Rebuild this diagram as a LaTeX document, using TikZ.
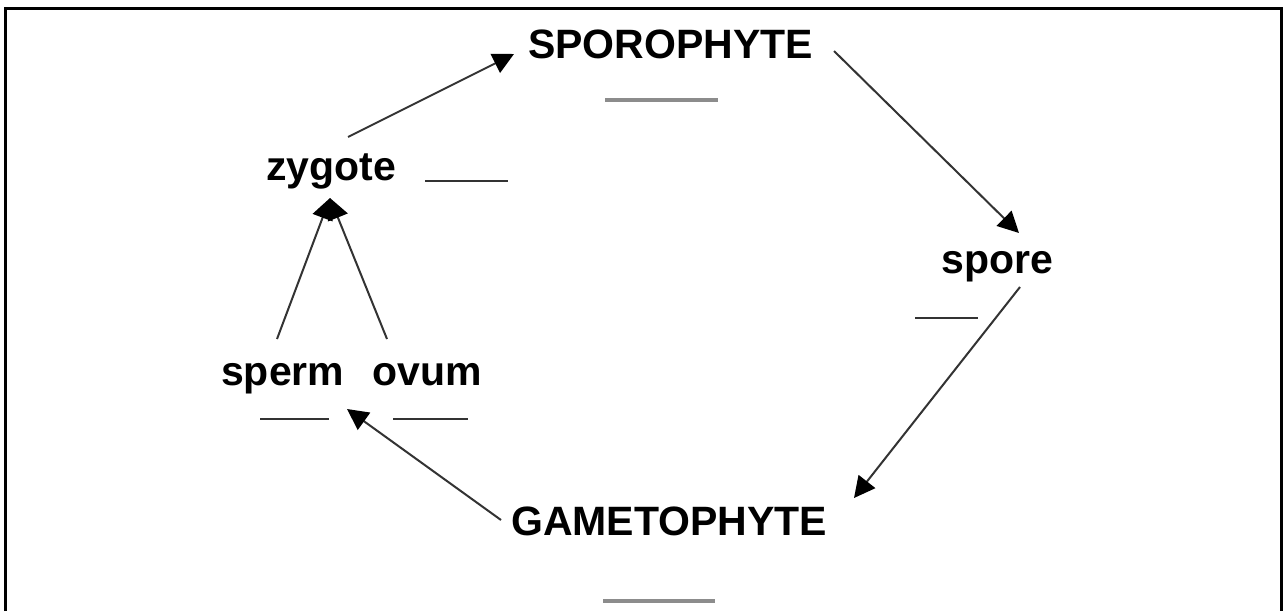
\documentclass[tikz,border=0pt]{standalone}
\usepackage{fontspec}
\setmainfont{Liberation Sans}
\usetikzlibrary{arrows.meta,calc}
\tikzset{
  stage/.style={inner sep=0pt, anchor=base west, font=\fontsize{41}{49}\selectfont\bfseries},
  flow/.style={draw=black!80, line width=2pt, -{Triangle[length=21pt,width=21pt,color=black]}},
  blank/.style={draw=black!80, line width=2pt},
  wideblank/.style={draw=black!45, line width=3.5pt}
}
\begin{document}
\begin{tikzpicture}[x=1pt,y=-1pt]
  \useasboundingbox (0,0) rectangle (1285,611);
  % open frame
  \draw[line width=3.5pt] (5.5,611) -- (5.5,8.5) -- (1281.5,8.5) -- (1281.5,611);

  % stage labels
  \node[stage] (spor)  at (528,58)  {SPOROPHYTE};
  \node[stage] (zyg)   at (266,180) {zygote};
  \node[stage] (spore) at (941,273) {spore};
  \node[stage] (sperm) at (221,385) {sperm};
  \node[stage] (ovum)  at (372,385) {ovum};
  \node[stage] (game)  at (511,535) {GAMETOPHYTE};

  % answer blanks
  \draw[wideblank] (605,100) -- (718,100);
  \draw[blank] (425,181) -- (508,181);
  \draw[blank] (915,318) -- (978,318);
  \draw[blank] (260,419) -- (329,419);
  \draw[blank] (393,419) -- (468,419);
  \draw[wideblank] (603,601) -- (715,601);

  % life-cycle arrows
  \draw[flow] ($(zyg.base west)+(82,-43)$) -- ($(spor.base west)+(-14,-4)$);
  \draw[flow] ($(spor.base west)+(306,-7)$) -- ($(spore.base west)+(78,-40)$);
  \draw[flow] ($(spore.base west)+(79,14)$) -- ($(game.base west)+(343,-37)$);
  \draw[flow] ($(game.base west)+(-10,-15)$) -- ($(sperm.base west)+(126,24)$);
  \draw[flow] ($(sperm.base west)+(56,-46)$) -- ($(zyg.base west)+(64,18)$);
  \draw[flow] ($(ovum.base west)+(15,-46)$) -- ($(zyg.base west)+(64,18)$);
\end{tikzpicture}
\end{document}
